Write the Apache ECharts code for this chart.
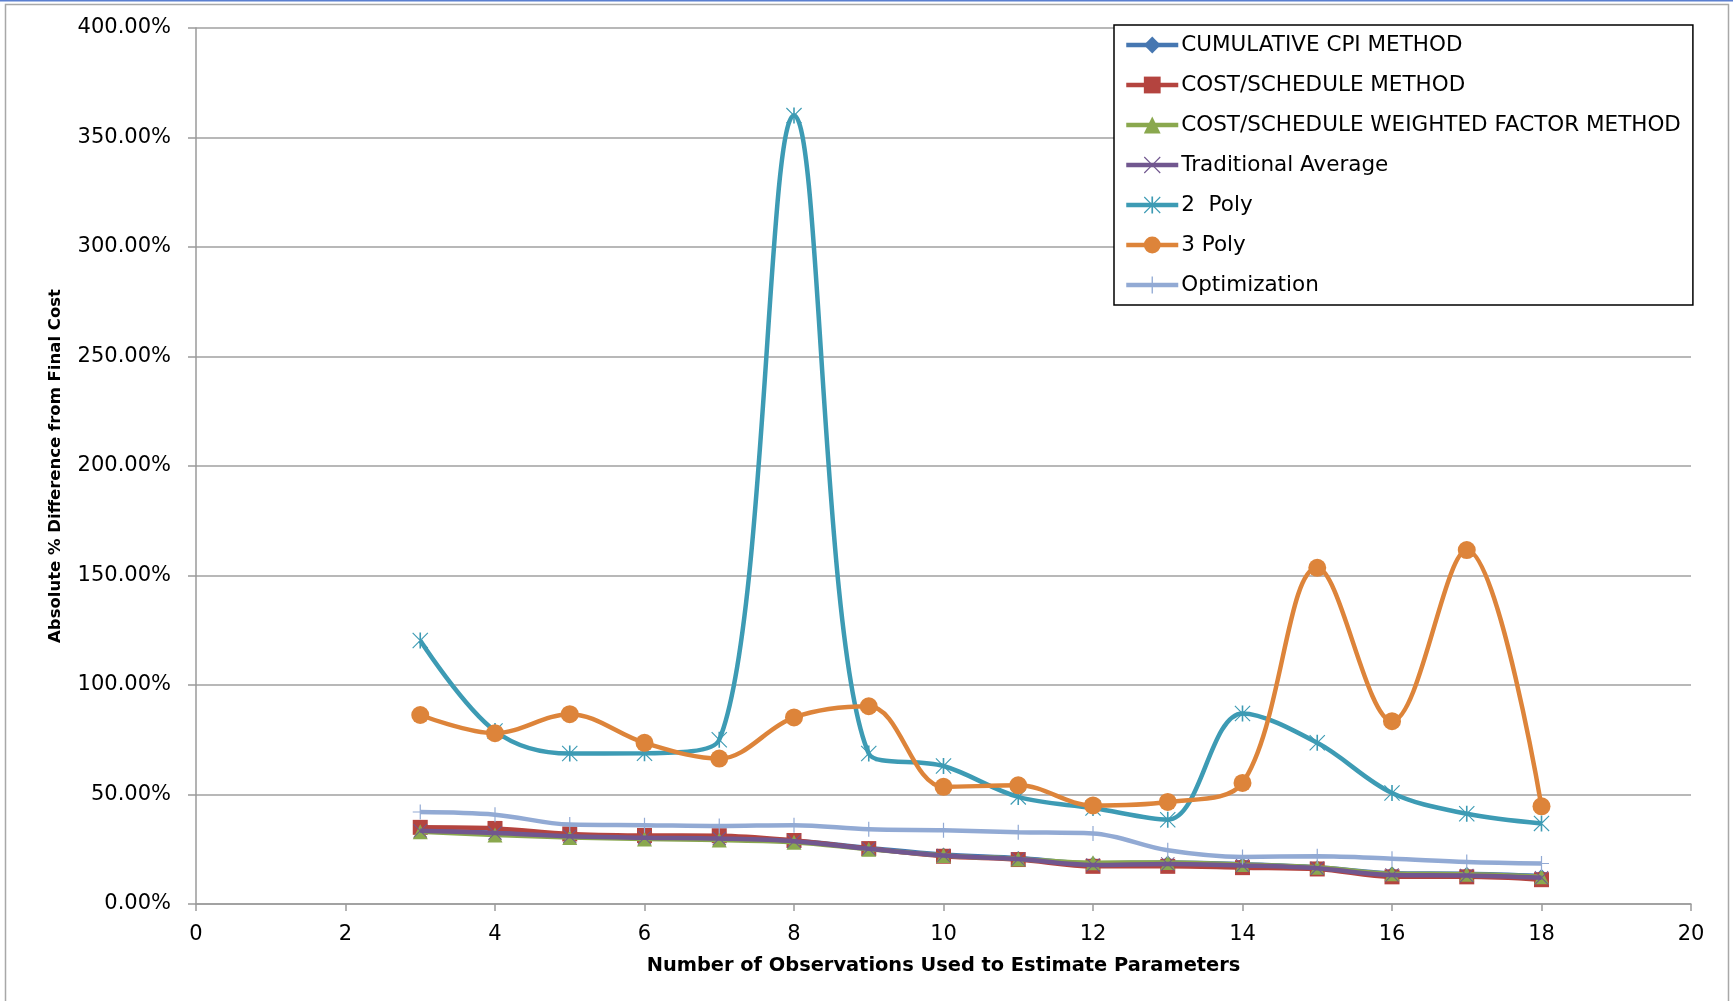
<!DOCTYPE html>
<html>
<head>
<meta charset="utf-8">
<script src="https://cdn.jsdelivr.net/npm/echarts@6/dist/echarts.min.js"></script>
<style>
html,body{margin:0;padding:0;background:#fff;}
#chart{width:1733px;height:1001px;}
</style>
</head>
<body>
<div id="chart"></div>
<script>
// ---- data ----
const xObs = [3, 4, 5, 6, 7, 8, 9, 10, 11, 12, 13, 14, 15, 16, 17, 18];
const seriesNames = [
  'CUMULATIVE CPI METHOD',
  'COST/SCHEDULE METHOD',
  'COST/SCHEDULE WEIGHTED FACTOR METHOD',
  'Traditional Average',
  '2  Poly',
  '3 Poly',
  'Optimization'
];
const cpiMethod      = [33.6, 32.6, 30.9, 30.3, 29.9, 28.9, 25.6, 22.6, 21.0, 18.6, 19.0, 18.2, 16.8, 14.0, 13.8, 12.8];
const costSchedule   = [35.0, 34.5, 32.0, 31.3, 31.2, 29.0, 25.3, 21.8, 20.3, 17.2, 17.2, 16.6, 16.0, 12.4, 12.4, 11.1];
const weightedFactor = [33.0, 31.5, 30.4, 29.7, 29.2, 28.2, 25.0, 22.2, 20.6, 18.8, 19.0, 18.0, 16.8, 13.8, 13.6, 12.5];
const tradAverage    = [33.4, 32.4, 30.9, 30.3, 29.9, 28.7, 25.2, 22.1, 20.5, 17.8, 18.3, 17.6, 16.3, 13.2, 13.0, 12.0];
const twoPoly        = [120.3, 79.0, 68.7, 68.8, 75.0, 360.0, 68.7, 63.0, 48.9, 43.8, 38.5, 87.0, 73.6, 50.7, 41.2, 36.8];
const threePoly      = [86.3, 78.0, 86.7, 73.6, 66.4, 85.2, 90.3, 53.5, 54.2, 45.0, 46.6, 55.3, 153.5, 83.5, 161.6, 44.6];
const optimization   = [42.0, 40.8, 36.3, 36.0, 35.6, 36.0, 34.1, 33.7, 32.8, 32.2, 24.5, 21.5, 21.8, 20.7, 19.2, 18.5];
const xTicks = [0, 2, 4, 6, 8, 10, 12, 14, 16, 18, 20];
const yTicks = [0, 50, 100, 150, 200, 250, 300, 350, 400];

// ---- styles ----
const colors = ['#4677b1', '#b4443f', '#8aa84e', '#71578f', '#3d9bb4', '#dd843a', '#92aad4'];
const SYM_X = 'path://M1,0L10,9L19,0L20,1L11,10L20,19L19,20L10,11L1,20L0,19L9,10L0,1Z';
const SYM_AST = SYM_X + 'M9,0L11,0L11,20L9,20Z';
const SYM_PLUS = 'path://M9.2,0L10.8,0L10.8,20L9.2,20ZM0,9.2L20,9.2L20,10.8L0,10.8Z';
const symbols = ['diamond', 'rect', 'triangle', SYM_X, SYM_AST, 'circle', SYM_PLUS];
const symSizes = [14, 15, 15, 14, 16, 18, 15];
const allData = [cpiMethod, costSchedule, weightedFactor, tradAverage, twoPoly, threePoly, optimization];

const series = seriesNames.map((name, i) => ({
  name: name,
  type: 'line',
  smooth: 0.35,
  data: xObs.map((x, j) => [x, allData[i][j]]),
  symbol: symbols[i],
  symbolSize: symSizes[i],
  showAllSymbol: true,
  lineStyle: { color: colors[i], width: 4.5 },
  itemStyle: { color: colors[i], borderWidth: 0 },
  emphasis: { disabled: true },
  z: 2 + i
}));

const chart = echarts.init(document.getElementById('chart'), null, { renderer: 'canvas' });
chart.setOption({
  animation: false,
  backgroundColor: '#ffffff',
  color: colors,
  grid: { left: 196, right: 42, top: 28, bottom: 97, containLabel: false },
  xAxis: {
    type: 'value',
    min: xTicks[0], max: xTicks[xTicks.length - 1], interval: 2,
    name: 'Number of Observations Used to Estimate Parameters',
    nameLocation: 'middle', nameGap: 52,
    nameTextStyle: { fontFamily: 'DejaVu Sans', fontWeight: 'bold', fontSize: 19.4, color: '#000' },
    axisLine: { lineStyle: { color: '#9a9a9a', width: 1.5 } },
    axisTick: { show: true, length: 7, lineStyle: { color: '#9a9a9a', width: 1.5 } },
    axisLabel: { fontFamily: 'DejaVu Sans', fontSize: 21, color: '#000', margin: 20 },
    splitLine: { show: false }
  },
  yAxis: {
    type: 'value',
    min: yTicks[0], max: yTicks[yTicks.length - 1], interval: 50,
    name: 'Absolute % Difference from Final Cost',
    nameLocation: 'middle', nameGap: 132,
    nameTextStyle: { fontFamily: 'DejaVu Sans', fontWeight: 'bold', fontSize: 16.5, color: '#000' },
    axisLine: { show: true, lineStyle: { color: '#9a9a9a', width: 1.5 } },
    axisTick: { show: true, length: 8, lineStyle: { color: '#9a9a9a', width: 1.5 } },
    axisLabel: { fontFamily: 'DejaVu Sans', fontSize: 21, color: '#000', margin: 25,
      formatter: v => v.toFixed(2) + '%' },
    splitLine: { lineStyle: { color: '#a0a0a0', width: 1.5 } }
  },
  legend: {
    orient: 'vertical',
    left: 1114, top: 25,
    padding: [8, 12, 8, 10],
    itemGap: 16,
    itemWidth: 52, itemHeight: 21,
    backgroundColor: '#fff',
    borderColor: '#000', borderWidth: 1.5,
    data: seriesNames,
    lineStyle: { width: 4.5 },
    textStyle: { fontFamily: 'DejaVu Sans', fontSize: 21.5, color: '#000', lineHeight: 24, padding: [0, 0, 0, -2] }
  },
  graphic: [
    { type: 'rect', silent: true, z: -10, shape: { x: 5.5, y: 4.5, width: 1723, height: 1020 },
      style: { fill: 'none', stroke: '#a8a8a8', lineWidth: 1.5 } },
    { type: 'rect', silent: true, z: -10, shape: { x: 0, y: 0, width: 1733, height: 1.5 },
      style: { fill: '#5b7fd0' } }
  ],
  series: series
});
</script>
</body>
</html>
